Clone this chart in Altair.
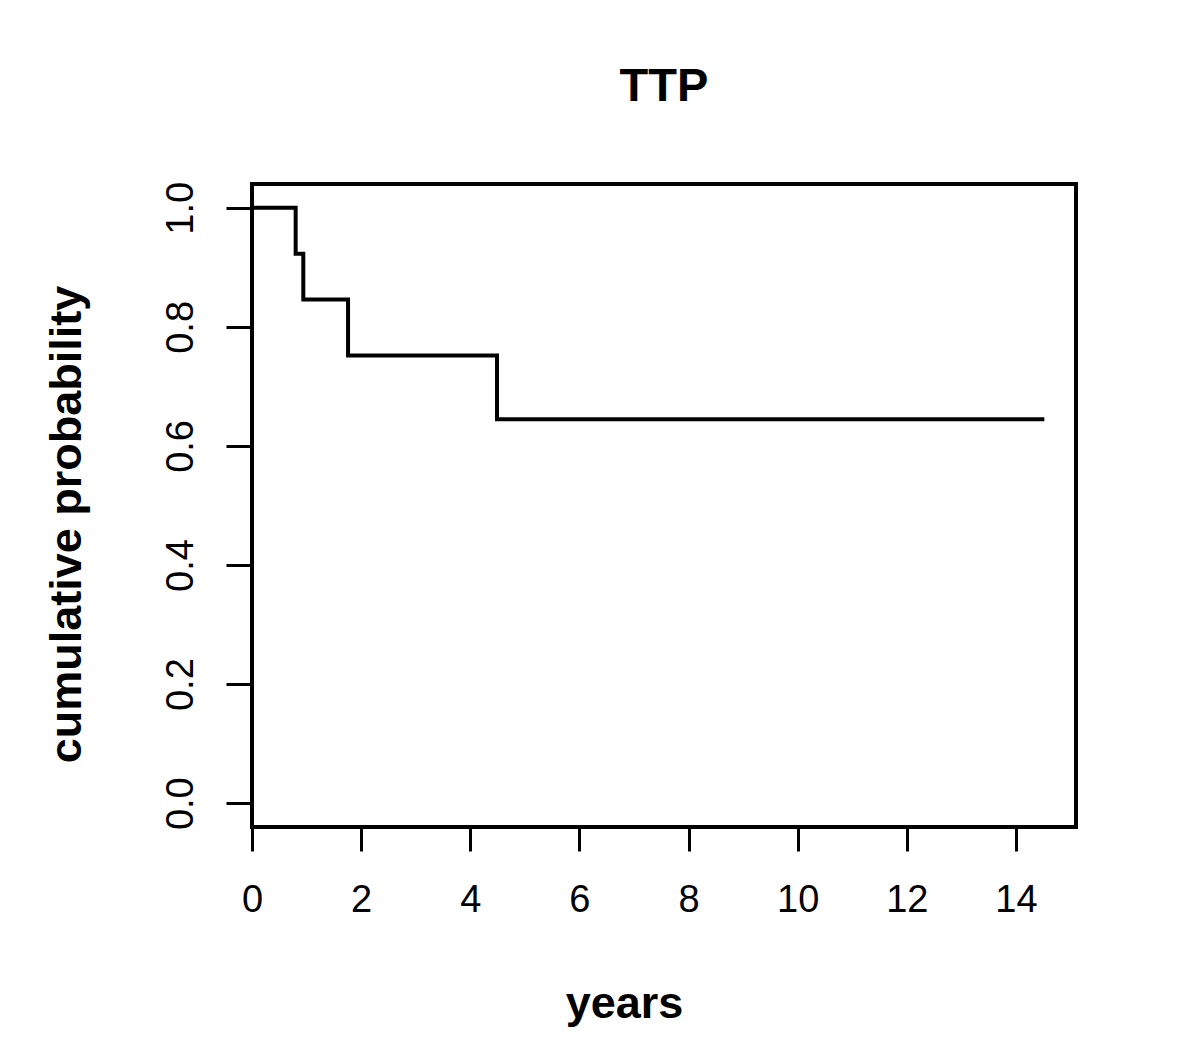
import altair as alt
import pandas as pd

# Kaplan-Meier step points (years, cumulative probability)
years = [0.0, 0.80, 0.94, 1.76, 4.49, 14.52]
prob = [1.0, 0.923, 0.846, 0.752, 0.645, 0.645]

x_ticks = [0, 2, 4, 6, 8, 10, 12, 14]
y_ticks = [0.0, 0.2, 0.4, 0.6, 0.8, 1.0]

df = pd.DataFrame({"years": years, "prob": prob})

FONT = "Liberation Sans"

chart = (
    alt.Chart(df)
    .mark_line(interpolate="step-after", color="black", strokeWidth=4)
    .encode(
        x=alt.X(
            "years:Q",
            scale=alt.Scale(domain=[0, 15.1], nice=False, zero=False),
            axis=alt.Axis(
                title="years",
                values=x_ticks,
                format="d",
                grid=False,
                domain=False,
                tickColor="black",
                tickWidth=3,
                tickSize=24,
                labelFlush=False,
                labelFont=FONT,
                labelFontSize=38,
                labelColor="black",
                labelPadding=30,
                titleFont=FONT,
                titleFontSize=45,
                titleFontWeight="bold",
                titleColor="black",
                titleX=372,
                titleY=190,
                titleBaseline="alphabetic",
                titleAlign="center",
            ),
        ),
        y=alt.Y(
            "prob:Q",
            scale=alt.Scale(domain=[-0.04, 1.04], nice=False, zero=False),
            axis=alt.Axis(
                title="cumulative probability",
                values=y_ticks,
                format=".1f",
                grid=False,
                domain=False,
                tickColor="black",
                tickWidth=3,
                tickSize=26,
                labelFlush=False,
                labelAngle=270,
                labelFont=FONT,
                labelFontSize=38,
                labelColor="black",
                labelPadding=26,
                titleFont=FONT,
                titleFontSize=45,
                titleFontWeight="bold",
                titleColor="black",
                titleAngle=270,
                titleX=-172,
                titleY=340,
                titleBaseline="alphabetic",
                titleAlign="center",
            ),
        ),
    )
    .properties(
        width=824,
        height=643,
        title=alt.Title(
            "TTP",
            font=FONT,
            fontSize=47,
            fontWeight="bold",
            color="black",
            anchor="middle",
            baseline="alphabetic",
            offset=33,
        ),
        autosize=alt.AutoSizeParams(type="none"),
        padding={"left": 244, "top": 176, "right": 101, "bottom": 222},
        background="white",
    )
    .configure_view(stroke="black", strokeWidth=4, fill="white")
)

chart.save("out.html", embed_options={"renderer": "svg", "actions": False})
